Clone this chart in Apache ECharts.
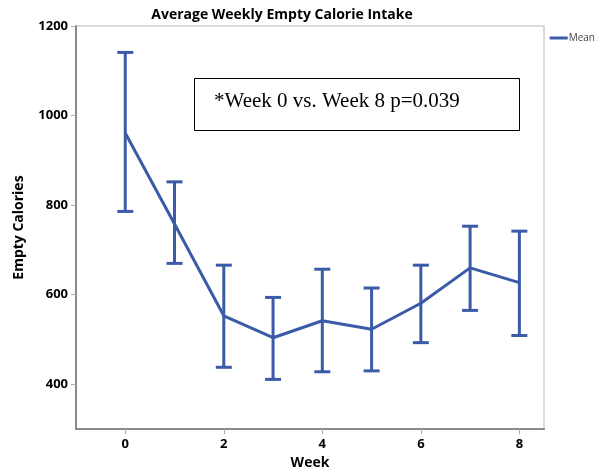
<!DOCTYPE html>
<html>
<head>
<meta charset="utf-8">
<script src="https://cdn.jsdelivr.net/npm/echarts@6/dist/echarts.min.js"></script>
<style>html,body{margin:0;padding:0;background:#fff}#c{width:608px;height:475px}</style>
</head>
<body>
<div id="c"></div>
<script>
var weeks = [0, 1, 2, 3, 4, 5, 6, 7, 8];
var means = [961, 758, 553, 504, 542, 523, 581, 660, 627];
var lowers = [786, 670, 438, 411, 428, 430, 493, 565, 509];
var uppers = [1141, 852, 666, 594, 657, 615, 666, 753, 742];
var xTicks = [0, 2, 4, 6, 8];
var yTicks = [400, 600, 800, 1000, 1200];

var blue = '#3a5ba8';
var font = 'Open Sans';

var lineData = weeks.map(function (w, i) { return [w, means[i]]; });
var errData = weeks.map(function (w, i) { return [w, lowers[i], uppers[i]]; });

var chart = echarts.init(document.getElementById('c'));
chart.setOption({
  animation: false,
  title: {
    text: 'Average Weekly Empty Calorie Intake',
    left: 277, top: 3, textAlign: 'center',
    textStyle: { fontFamily: font, fontWeight: 'bold', fontSize: 14, color: '#000' }
  },
  legend: {
    right: 8, top: 28, icon: 'rect', itemWidth: 18, itemHeight: 3, itemGap: 2,
    textStyle: { fontFamily: font, fontSize: 10, color: '#444', padding: [0, 0, 0, -4] },
    data: ['Mean']
  },
  grid: { left: 76, right: 64, top: 26, bottom: 44, show: true, borderColor: '#cfcfcf', borderWidth: 1.5 },
  xAxis: {
    type: 'value', min: -1, max: 8.5,
    name: 'Week', nameLocation: 'middle', nameGap: 24,
    nameTextStyle: { fontFamily: font, fontWeight: 'bold', fontSize: 14, color: '#000' },
    axisLine: { show: true, onZero: false, lineStyle: { color: '#8a8a8a', width: 2 } },
    axisTick: { show: true, customValues: xTicks, length: 5, lineStyle: { color: '#aaa' } },
    axisLabel: { customValues: xTicks, fontFamily: font, fontWeight: 'bold', fontSize: 13, color: '#000', margin: 9 },
    splitLine: { show: false }
  },
  yAxis: {
    type: 'value', min: 300, max: 1200,
    name: 'Empty Calories', nameLocation: 'middle', nameGap: 50,
    nameTextStyle: { fontFamily: font, fontWeight: 'bold', fontSize: 14, color: '#000' },
    axisLine: { show: true, onZero: false, lineStyle: { color: '#8a8a8a', width: 2 } },
    axisTick: { show: true, customValues: yTicks, length: 5, lineStyle: { color: '#aaa' } },
    axisLabel: { customValues: yTicks, formatter: function (v) { return String(v); },
      fontFamily: font, fontWeight: 'bold', fontSize: 13, color: '#000', margin: 8 },
    splitLine: { show: false }
  },
  graphic: [
    { type: 'rect', left: 194, top: 78, shape: { width: 325, height: 52 },
      style: { fill: '#fff', stroke: '#000', lineWidth: 1 }, z: 10 },
    { type: 'text', left: 214, top: 91,
      style: { text: '*Week 0 vs. Week 8 p=0.039', font: '21px "Liberation Serif"', fill: '#000' }, z: 11 }
  ],
  series: [
    {
      name: 'Mean', type: 'line', data: lineData, symbol: 'none',
      lineStyle: { color: blue, width: 3 }, itemStyle: { color: blue }, z: 3
    },
    {
      name: 'err', type: 'custom', data: errData, z: 4,
      renderItem: function (params, api) {
        var x = api.value(0);
        var lo = api.coord([x, api.value(1)]);
        var hi = api.coord([x, api.value(2)]);
        var hw = 8;
        var st = { stroke: blue, lineWidth: 3, fill: 'none' };
        return {
          type: 'group',
          children: [
            { type: 'line', shape: { x1: lo[0], y1: lo[1], x2: hi[0], y2: hi[1] }, style: st },
            { type: 'line', shape: { x1: lo[0] - hw, y1: lo[1], x2: lo[0] + hw, y2: lo[1] }, style: st },
            { type: 'line', shape: { x1: hi[0] - hw, y1: hi[1], x2: hi[0] + hw, y2: hi[1] }, style: st }
          ]
        };
      }
    }
  ]
});
</script>
</body>
</html>
